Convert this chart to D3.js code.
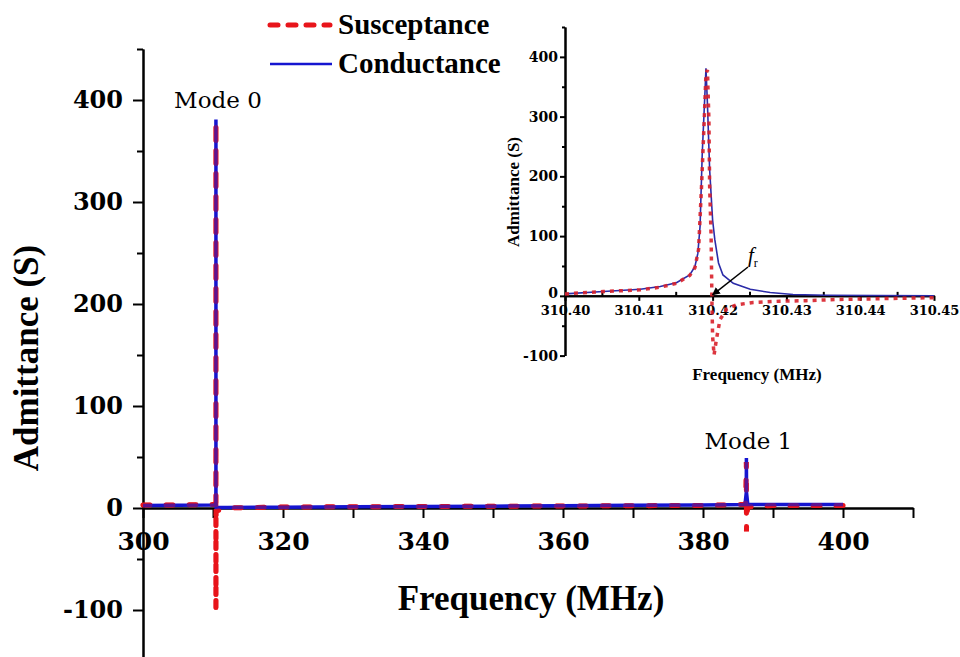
<!DOCTYPE html>
<html>
<head>
<meta charset="utf-8">
<script src="https://cdn.jsdelivr.net/npm/d3@7"></script>
<style>
  body { margin: 0; background: #fff; }
</style>
</head>
<body>
<script>
// values: [frequency MHz, admittance S]
const conductanceMain = [
  [300, 2.5], [305, 2.8], [310, 3], [310.40, 3.3], [310.415, 22], [310.418, 71],
  [310.4186, 239], [310.4191, 381], [310.4196, 211], [310.4203, 94], [310.4228, 21],
  [310.43, 3], [310.45, 0.5], [312, 0.5], [320, 0.8], [330, 1.2], [340, 1.5],
  [350, 1.8], [360, 2.2], [370, 2.6], [380, 3], [386, 3.5], [386.18, 15],
  [386.2, 49], [386.22, 15], [386.4, 3.5], [390, 3.5], [400, 3.5]
];
const susceptanceMain = [
  [300, 3], [305, 3], [310, 3.5], [310.40, 3.3], [310.415, 21], [310.4181, 78],
  [310.4189, 305], [310.4193, 378], [310.4196, 183], [310.4199, -1], [310.4202, -99],
  [310.4205, -74], [310.421, -40], [310.4219, -22], [310.43, -9], [310.45, -3],
  [312, 0], [320, 1], [340, 1.5], [360, 2], [380, 2.5], [386.1, 3.5], [386.19, 45],
  [386.2, 20], [386.21, -23], [386.25, -8], [386.4, 1], [390, 2.5], [400, 2.5]
];
const conductanceInset = [
  [310.4000, 3.3], [310.4052, 7.2], [310.4102, 11], [310.4129, 15.6], [310.4151, 22],
  [310.4169, 35], [310.4176, 49], [310.4180, 71], [310.4183, 116], [310.4186, 239],
  [310.4190, 350], [310.4191, 381], [310.4193, 322], [310.4196, 211], [310.4200, 127],
  [310.4203, 94], [310.4208, 55], [310.4214, 35], [310.4228, 21], [310.4251, 11],
  [310.4278, 5.6], [310.4309, 2.2], [310.4354, 1.1], [310.4422, 0.6], [310.4500, 0.3]
];
const susceptanceInset = [
  [310.4000, 3.3], [310.4052, 7.2], [310.4102, 10], [310.4129, 14.5], [310.4151, 21],
  [310.4169, 34], [310.4176, 47], [310.4181, 78], [310.4185, 183], [310.4189, 305],
  [310.4191, 372], [310.4193, 378], [310.4195, 294], [310.4196, 183], [310.4198, 99],
  [310.4199, -1], [310.4200, -68], [310.4202, -99], [310.4205, -74], [310.4210, -40],
  [310.4219, -22], [310.4232, -15], [310.4255, -11], [310.4291, -9], [310.4327, -8],
  [310.4370, -6], [310.4417, -5], [310.4500, -3]
];
const mainXTicks = [300, 320, 340, 360, 380, 400];
const mainXMinor = [310, 330, 350, 370, 390, 410];
const mainYTicks = [-100, 0, 100, 200, 300, 400];
const mainYMinor = [-150, -50, 50, 150, 250, 350, 450];
const insetXTicks = [310.40, 310.41, 310.42, 310.43, 310.44, 310.45];
const insetXMinor = [310.405, 310.415, 310.425, 310.435, 310.445];
const insetYTicks = [-100, 0, 100, 200, 300, 400];
const insetYMinor = [-50, 50, 150, 250, 350, 450];
const modeLabels = [["Mode 0", 310.42, 383], ["Mode 1", 386.2, 49]];

const RED = "#e8151b", BLUE = "#1515d0";
const BOLD = "Liberation Serif", NUM = "DejaVu Serif";

const svg = d3.select("body").append("svg")
  .attr("width", 960).attr("height", 657);

// main chart
const x = d3.scaleLinear().domain([300, 410]).range([143, 913]);
const y = d3.scaleLinear().domain([-150, 450]).range([661, 49]);

function styleAxis(g, size) {
  g.select(".domain").attr("stroke-width", 2);
  g.selectAll(".tick line").attr("stroke-width", 2);
  g.selectAll("text").attr("font-family", NUM).attr("font-weight", "bold")
    .attr("font-size", size).attr("fill", "#000");
}
const plain = d => String(d);   // keeps "-100" with a plain hyphen

svg.append("g")
  .attr("transform", `translate(0,${y(0)})`)
  .call(d3.axisBottom(x).tickValues(mainXMinor).tickSize(10).tickFormat("").tickSizeOuter(0))
  .call(g => styleAxis(g, 25));
svg.append("g")
  .attr("transform", `translate(0,${y(0)})`)
  .call(d3.axisBottom(x).tickValues(mainXTicks).tickSize(10).tickPadding(14).tickFormat(plain).tickSizeOuter(0))
  .call(g => styleAxis(g, 25));

svg.append("g")
  .attr("transform", `translate(${x(300)},0)`)
  .call(d3.axisLeft(y).tickValues(mainYMinor).tickSize(6).tickFormat("").tickSizeOuter(0))
  .call(g => styleAxis(g, 24));
svg.append("g")
  .attr("transform", `translate(${x(300)},0)`)
  .call(d3.axisLeft(y).tickValues(mainYTicks).tickSize(10).tickPadding(10).tickFormat(plain).tickSizeOuter(0))
  .call(g => styleAxis(g, 24));

const line = d3.line().x(d => x(d[0])).y(d => y(d[1]));

// red underneath, blue on top, then a faint red pass so the overlap reads purple
svg.append("path").datum(susceptanceMain)
  .attr("d", line).attr("fill", "none").attr("stroke", RED)
  .attr("stroke-width", 5).attr("stroke-dasharray", "7,16").attr("stroke-linecap", "round");
svg.append("path").datum(conductanceMain)
  .attr("d", line).attr("fill", "none").attr("stroke", BLUE).attr("stroke-width", 3.5);
svg.append("path").datum(susceptanceMain)
  .attr("d", line).attr("fill", "none").attr("stroke", RED).attr("stroke-opacity", 0.35)
  .attr("stroke-width", 5).attr("stroke-dasharray", "7,16").attr("stroke-linecap", "round");

svg.selectAll(".mode").data(modeLabels).enter().append("text")
  .attr("class", "mode")
  .attr("x", d => x(d[1]) + 2)
  .attr("y", d => y(d[2]) - 9)
  .attr("text-anchor", "middle")
  .attr("font-family", NUM).attr("font-size", 23)
  .text(d => d[0]);

svg.append("text")
  .attr("transform", "translate(38,358) rotate(-90)")
  .attr("text-anchor", "middle")
  .attr("font-family", BOLD).attr("font-weight", "bold").attr("font-size", 35)
  .text("Admittance (S)");
svg.append("text")
  .attr("x", 531).attr("y", 610)
  .attr("text-anchor", "middle")
  .attr("font-family", BOLD).attr("font-weight", "bold").attr("font-size", 35)
  .text("Frequency (MHz)");

// legend
const legend = svg.append("g");
legend.append("line").attr("x1", 270).attr("x2", 330).attr("y1", 25).attr("y2", 25)
  .attr("stroke", RED).attr("stroke-width", 5)
  .attr("stroke-dasharray", "8,10").attr("stroke-linecap", "round");
legend.append("line").attr("x1", 270).attr("x2", 332).attr("y1", 64).attr("y2", 64)
  .attr("stroke", BLUE).attr("stroke-width", 2.5);
legend.selectAll("text").data([["Susceptance", 34], ["Conductance", 73]]).enter()
  .append("text")
  .attr("x", 338).attr("y", d => d[1])
  .attr("font-family", BOLD).attr("font-weight", "bold").attr("font-size", 29)
  .text(d => d[0]);

// inset
const xi = d3.scaleLinear().domain([310.40, 310.45]).range([565, 934]);
const yi = d3.scaleLinear().domain([-100, 450]).range([355.6, 27]);
const inset = svg.append("g");

inset.append("g")
  .attr("transform", `translate(0,${yi(0)})`)
  .call(d3.axisBottom(xi).tickValues(insetXMinor).tickSize(-4).tickFormat("").tickSizeOuter(0))
  .call(g => styleAxis(g, 13));
inset.append("g")
  .attr("transform", `translate(0,${yi(0)})`)
  .call(d3.axisBottom(xi).tickValues(insetXTicks).tickSize(5).tickPadding(5)
    .tickFormat(d3.format(".2f")).tickSizeOuter(0))
  .call(g => styleAxis(g, 13));
inset.append("g")
  .attr("transform", `translate(${xi(310.40)},0)`)
  .call(d3.axisLeft(yi).tickValues(insetYMinor).tickSize(3).tickFormat("").tickSizeOuter(0))
  .call(g => styleAxis(g, 14));
inset.append("g")
  .attr("transform", `translate(${xi(310.40)},0)`)
  .call(d3.axisLeft(yi).tickValues(insetYTicks).tickSize(5).tickPadding(2).tickFormat(plain).tickSizeOuter(0))
  .call(g => styleAxis(g, 14))
  .call(g => g.selectAll(".tick text").filter(d => d === 0).attr("dy", "0.1em"));

const lineI = d3.line().x(d => xi(d[0])).y(d => yi(d[1]));
inset.append("path").datum(conductanceInset)
  .attr("d", lineI).attr("fill", "none").attr("stroke", "#2b2ba8").attr("stroke-width", 1.6);
inset.append("path").datum(susceptanceInset)
  .attr("d", lineI).attr("fill", "none").attr("stroke", "#d8202a").attr("stroke-opacity", 0.9)
  .attr("stroke-width", 3.5).attr("stroke-dasharray", "4,5");

inset.append("text")
  .attr("transform", "translate(519,192) rotate(-90)")
  .attr("text-anchor", "middle")
  .attr("font-family", BOLD).attr("font-weight", "bold").attr("font-size", 17)
  .text("Admittance (S)");
inset.append("text")
  .attr("x", 757).attr("y", 380)
  .attr("text-anchor", "middle")
  .attr("font-family", BOLD).attr("font-weight", "bold").attr("font-size", 17)
  .text("Frequency (MHz)");

// f_r annotation
svg.append("defs").append("marker")
  .attr("id", "arr").attr("viewBox", "0 0 10 10").attr("refX", 9).attr("refY", 5)
  .attr("markerWidth", 8).attr("markerHeight", 8).attr("orient", "auto")
  .attr("markerUnits", "userSpaceOnUse")
  .append("path").attr("d", "M0,0 L10,5 L0,10 Z").attr("fill", "#000");
inset.append("line")
  .attr("x1", 748).attr("y1", 267).attr("x2", xi(310.42)).attr("y2", yi(0) - 1)
  .attr("stroke", "#000").attr("stroke-width", 1.5).attr("marker-end", "url(#arr)");
const fr = inset.append("text").attr("x", 748).attr("y", 262)
  .attr("font-family", BOLD).attr("font-style", "italic").attr("font-size", 21);
fr.append("tspan").text("f");
fr.append("tspan").attr("dy", 5).attr("font-size", 12).attr("font-style", "normal").text("r");
</script>
</body>
</html>
